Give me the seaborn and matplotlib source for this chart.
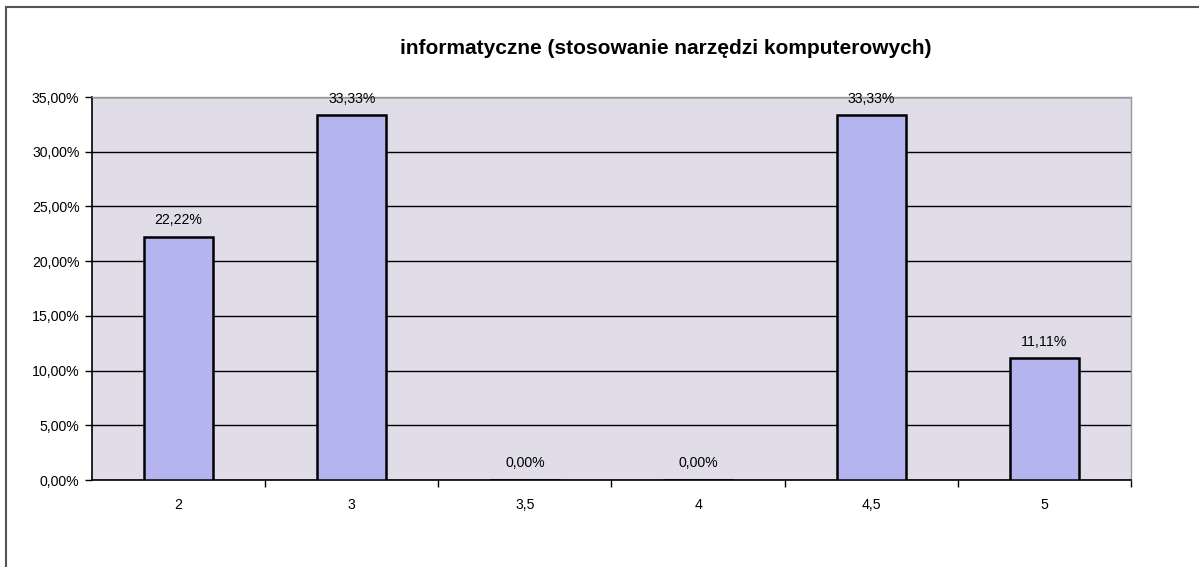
#!/usr/bin/env python3
"""Bar chart: informatyczne (stosowanie narzedzi komputerowych)."""

import matplotlib

matplotlib.use("Agg")
import matplotlib.pyplot as plt
import pandas as pd
import seaborn as sns
from matplotlib.patches import Rectangle
from matplotlib.ticker import FixedLocator, FuncFormatter, MultipleLocator

TITLE = "informatyczne (stosowanie narzędzi komputerowych)"
CATEGORIES = ["2", "3", "3,5", "4", "4,5", "5"]
PERCENTS = [22.22, 33.33, 0.00, 0.00, 33.33, 11.11]

BAR_COLOR = "#b4b4ee"
PLOT_BG = "#e0dde8"


def pct_label(value: float) -> str:
    return f"{value:.2f}%".replace(".", ",")


def main() -> None:
    sns.set_theme(style="white")
    plt.rcParams["font.family"] = ["Liberation Sans", "DejaVu Sans"]

    data = pd.DataFrame({"ocena": CATEGORIES, "procent": PERCENTS})

    fig = plt.figure(figsize=(11.99, 5.67), dpi=100)
    ax = fig.add_axes([0.0767, 0.1534, 0.8666, 0.6755])
    ax.set_facecolor(PLOT_BG)

    sns.barplot(
        data=data,
        x="ocena",
        y="procent",
        order=CATEGORIES,
        color=BAR_COLOR,
        saturation=1,
        width=0.4,
        edgecolor="black",
        linewidth=1.8,
        ax=ax,
        zorder=3,
    )

    ax.set_xlim(-0.5, len(CATEGORIES) - 0.5)
    ax.set_ylim(0, 35)
    ax.yaxis.set_major_locator(MultipleLocator(5))
    ax.yaxis.set_major_formatter(FuncFormatter(lambda v, _pos: pct_label(v)))
    ax.grid(axis="y", color="black", linewidth=1.0, zorder=1)
    ax.set_axisbelow(True)

    ax.xaxis.set_minor_locator(FixedLocator([i + 0.5 for i in range(len(CATEGORIES))]))
    ax.tick_params(axis="x", which="major", length=0, pad=13, labelsize=10.2, colors="black")
    ax.tick_params(axis="x", which="minor", length=5, width=1, direction="out", bottom=True, color="black")
    ax.tick_params(axis="y", which="major", length=5, width=1, direction="out", left=True,
                   labelsize=10.2, colors="black", pad=4)

    ax.set_xlabel("")
    ax.set_ylabel("")

    for side in ("left", "bottom"):
        ax.spines[side].set_color("black")
        ax.spines[side].set_linewidth(1.2)
    for side in ("top", "right"):
        ax.spines[side].set_color("#9a9a9a")
        ax.spines[side].set_linewidth(1.0)

    for patch, value in zip(ax.patches, PERCENTS):
        ax.annotate(
            pct_label(value),
            xy=(patch.get_x() + patch.get_width() / 2, patch.get_height()),
            xytext=(0, 7),
            textcoords="offset points",
            ha="center",
            va="bottom",
            fontsize=10.2,
            color="black",
        )

    fig.text(0.555, 0.915, TITLE, ha="center", va="center", fontsize=15, fontweight="bold",
             color="black")

    # outer chart frame (only left and top edges fall inside the image)
    fig.patches.append(
        Rectangle((0.005, -0.1), 1.2, 1.087, transform=fig.transFigure,
                  fill=False, edgecolor="#555555", linewidth=1.5)
    )

    fig.savefig("out.png", dpi=100)
    plt.close(fig)


if __name__ == "__main__":
    main()
